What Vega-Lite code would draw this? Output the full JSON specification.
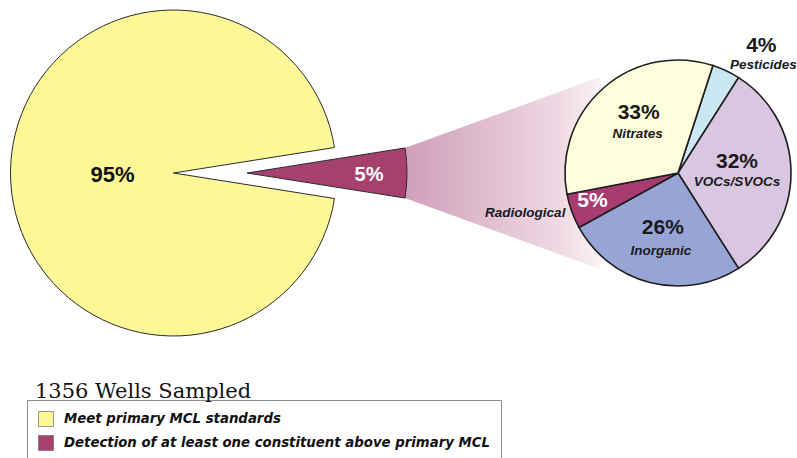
{
  "$schema": "https://vega.github.io/schema/vega-lite/v6.json",
  "width": 797,
  "height": 458,
  "padding": 0,
  "autosize": {"type": "none"},
  "background": "white",
  "config": {"view": {"stroke": null}, "legend": {"symbolOpacity": 1}},
  "datasets": {
    "wells": [
      {"cat": "Meet primary MCL standards", "share": 0.95},
      {"cat": "Detection of at least one constituent above primary MCL", "share": 0.05}
    ],
    "detected": [
      {"group": "Pesticides", "share": 0.04, "k": 1},
      {"group": "VOCs/SVOCs", "share": 0.32, "k": 2},
      {"group": "Inorganic", "share": 0.26, "k": 3},
      {"group": "Radiological", "share": 0.05, "k": 4},
      {"group": "Nitrates", "share": 0.33, "k": 5}
    ]
  },
  "title": {
    "text": "1356 Wells Sampled",
    "orient": "bottom",
    "anchor": "start",
    "frame": "group",
    "offset": -66,
    "dx": 35,
    "baseline": "alphabetic",
    "font": "DejaVu Serif",
    "fontSize": 21,
    "fontWeight": "normal",
    "color": "#111111"
  },
  "layer": [
    {
      "data": {"name": "wells"},
      "transform": [{"filter": "datum.share < 0.5"}],
      "mark": {
        "type": "arc",
        "x": 336,
        "y": 173,
        "theta": 1.2217,
        "theta2": 1.9199,
        "innerRadius": 71,
        "outerRadius": 280,
        "strokeWidth": 0,
        "fill": {
          "gradient": "linear",
          "x1": 0, "y1": 0, "x2": 1, "y2": 0,
          "stops": [
            {"offset": 0, "color": "#CF9EB8"},
            {"offset": 0.74, "color": "#EFDAE4"},
            {"offset": 1, "color": "#FDFAFB"}
          ]
        }
      },
      "encoding": {}
    },
    {
      "data": {"name": "wells"},
      "resolve": {"scale": {"theta": "independent"}},
      "layer": [
        {
          "transform": [{"filter": "datum.share > 0.5"}],
          "mark": {"type": "arc", "x": 173.5, "y": 173, "outerRadius": 163, "stroke": "#2b2b2b", "strokeWidth": 1},
          "encoding": {
            "theta": {"field": "share", "type": "quantitative", "stack": true, "scale": {"domain": [0, 1], "range": [1.7279, 8.0111]}},
            "color": {
              "field": "cat", "type": "nominal",
              "scale": {"domain": ["Meet primary MCL standards", "Detection of at least one constituent above primary MCL"], "range": ["#FDF897", "#A6416F"]},
              "legend": {
                "orient": "none", "legendX": 27, "legendY": 400, "title": null, "direction": "vertical",
                "strokeColor": "#8c8c8c", "padding": 11,
                "symbolType": "square", "symbolSize": 225, "symbolStrokeColor": "#6b6b6b", "symbolStrokeWidth": 0.7,
                "labelFont": "DejaVu Sans", "labelFontSize": 13.3, "labelFontStyle": "italic", "labelFontWeight": "bold",
                "labelColor": "#111111", "labelOffset": 10, "labelLimit": 600, "rowPadding": 6
              }
            }
          }
        },
        {
          "transform": [{"filter": "datum.share < 0.5"}],
          "mark": {"type": "arc", "x": 247, "y": 173, "outerRadius": 160, "stroke": "#2b2b2b", "strokeWidth": 1},
          "encoding": {
            "theta": {"field": "share", "type": "quantitative", "stack": true, "scale": {"domain": [0, 1], "range": [1.4137, 7.6969]}},
            "color": {
              "field": "cat", "type": "nominal",
              "scale": {"domain": ["Meet primary MCL standards", "Detection of at least one constituent above primary MCL"], "range": ["#FDF897", "#A6416F"]},
              "legend": {
                "orient": "none", "legendX": 27, "legendY": 400, "title": null, "direction": "vertical",
                "strokeColor": "#8c8c8c", "padding": 11,
                "symbolType": "square", "symbolSize": 225, "symbolStrokeColor": "#6b6b6b", "symbolStrokeWidth": 0.7,
                "labelFont": "DejaVu Sans", "labelFontSize": 13.3, "labelFontStyle": "italic", "labelFontWeight": "bold",
                "labelColor": "#111111", "labelOffset": 10, "labelLimit": 600, "rowPadding": 6
              }
            }
          }
        },
        {
          "transform": [{"filter": "datum.share > 0.5"}],
          "mark": {"type": "text", "x": 173.5, "y": 173, "radius": 61, "dy": 2, "font": "Liberation Sans", "fontSize": 22, "fontWeight": "bold", "color": "#111111"},
          "encoding": {
            "theta": {"field": "share", "type": "quantitative", "stack": true, "scale": {"domain": [0, 1], "range": [1.7279, 8.0111]}},
            "text": {"field": "share", "type": "quantitative", "format": ".0%"}
          }
        },
        {
          "transform": [{"filter": "datum.share < 0.5"}],
          "mark": {"type": "text", "x": 247, "y": 173, "radius": 122, "dy": 2, "font": "Liberation Sans", "fontSize": 20, "fontWeight": "bold", "color": "#ffffff"},
          "encoding": {
            "theta": {"field": "share", "type": "quantitative", "stack": true, "scale": {"domain": [0, 1], "range": [1.4137, 7.6969]}},
            "text": {"field": "share", "type": "quantitative", "format": ".0%"}
          }
        }
      ]
    },
    {
      "data": {"name": "detected"},
      "encoding": {
        "theta": {"field": "share", "type": "quantitative", "stack": true, "scale": {"domain": [0, 1], "range": [0.31416, 6.59734]}},
        "order": {"field": "k", "type": "quantitative"}
      },
      "layer": [
        {
          "mark": {"type": "arc", "x": 678, "y": 173, "outerRadius": 113, "stroke": "#1e1e1e", "strokeWidth": 1.6},
          "encoding": {
            "color": {
              "field": "group", "type": "nominal",
              "scale": {"domain": ["Nitrates", "Pesticides", "VOCs/SVOCs", "Inorganic", "Radiological"], "range": ["#FEFDDC", "#CCE7F4", "#D9C6E1", "#97A5D6", "#A83C70"]},
              "legend": null
            }
          }
        },
        {
          "mark": {"type": "text", "x": 678, "y": 173, "radius": 64, "dx": 3, "dy": -12, "font": "Liberation Sans", "fontSize": 21, "fontWeight": "bold", "color": "#1a1a1a"},
          "encoding": {"detail": {"field": "group"}, "text": {"condition": {"test": "datum.group === 'Nitrates'", "field": "share", "type": "quantitative", "format": ".0%"}, "value": ""}}
        },
        {
          "mark": {"type": "text", "x": 678, "y": 173, "radius": 64, "dx": 2, "dy": 9, "font": "Liberation Sans", "fontSize": 13.5, "fontWeight": "bold", "fontStyle": "italic", "color": "#1a1a1a"},
          "encoding": {"detail": {"field": "group"}, "text": {"condition": {"test": "datum.group === 'Nitrates'", "field": "group", "type": "nominal"}, "value": ""}}
        },
        {
          "mark": {"type": "text", "x": 678, "y": 173, "radius": 59, "dy": -11, "font": "Liberation Sans", "fontSize": 21, "fontWeight": "bold", "color": "#1a1a1a"},
          "encoding": {"detail": {"field": "group"}, "text": {"condition": {"test": "datum.group === 'VOCs/SVOCs'", "field": "share", "type": "quantitative", "format": ".0%"}, "value": ""}}
        },
        {
          "mark": {"type": "text", "x": 678, "y": 173, "radius": 59, "dy": 9, "font": "Liberation Sans", "fontSize": 13.5, "fontWeight": "bold", "fontStyle": "italic", "color": "#1a1a1a"},
          "encoding": {"detail": {"field": "group"}, "text": {"condition": {"test": "datum.group === 'VOCs/SVOCs'", "field": "group", "type": "nominal"}, "value": ""}}
        },
        {
          "mark": {"type": "text", "x": 678, "y": 173, "radius": 69, "dx": 2, "dy": -12, "font": "Liberation Sans", "fontSize": 21, "fontWeight": "bold", "color": "#1a1a1a"},
          "encoding": {"detail": {"field": "group"}, "text": {"condition": {"test": "datum.group === 'Inorganic'", "field": "share", "type": "quantitative", "format": ".0%"}, "value": ""}}
        },
        {
          "mark": {"type": "text", "x": 678, "y": 173, "radius": 69, "dy": 11, "font": "Liberation Sans", "fontSize": 13.5, "fontWeight": "bold", "fontStyle": "italic", "color": "#1a1a1a"},
          "encoding": {"detail": {"field": "group"}, "text": {"condition": {"test": "datum.group === 'Inorganic'", "field": "group", "type": "nominal"}, "value": ""}}
        },
        {
          "mark": {"type": "text", "x": 678, "y": 173, "radius": 144, "dx": 22, "dy": 3, "font": "Liberation Sans", "fontSize": 21, "fontWeight": "bold", "color": "#1a1a1a"},
          "encoding": {"detail": {"field": "group"}, "text": {"condition": {"test": "datum.group === 'Pesticides'", "field": "share", "type": "quantitative", "format": ".0%"}, "value": ""}}
        },
        {
          "mark": {"type": "text", "x": 678, "y": 173, "radius": 144, "dx": 24, "dy": 22, "font": "Liberation Sans", "fontSize": 13.5, "fontWeight": "bold", "fontStyle": "italic", "color": "#1a1a1a"},
          "encoding": {"detail": {"field": "group"}, "text": {"condition": {"test": "datum.group === 'Pesticides'", "field": "group", "type": "nominal"}, "value": ""}}
        },
        {
          "mark": {"type": "text", "x": 678, "y": 173, "radius": 91, "dy": -3, "font": "Liberation Sans", "fontSize": 21, "fontWeight": "bold", "color": "#ffffff"},
          "encoding": {"detail": {"field": "group"}, "text": {"condition": {"test": "datum.group === 'Radiological'", "field": "share", "type": "quantitative", "format": ".0%"}, "value": ""}}
        },
        {
          "mark": {"type": "text", "x": 678, "y": 173, "radius": 91, "dx": -27, "dy": 9, "align": "right", "font": "Liberation Sans", "fontSize": 13.5, "fontWeight": "bold", "fontStyle": "italic", "color": "#1a1a1a"},
          "encoding": {"detail": {"field": "group"}, "text": {"condition": {"test": "datum.group === 'Radiological'", "field": "group", "type": "nominal"}, "value": ""}}
        }
      ]
    }
  ],
  "resolve": {"scale": {"theta": "independent", "color": "independent"}}
}
